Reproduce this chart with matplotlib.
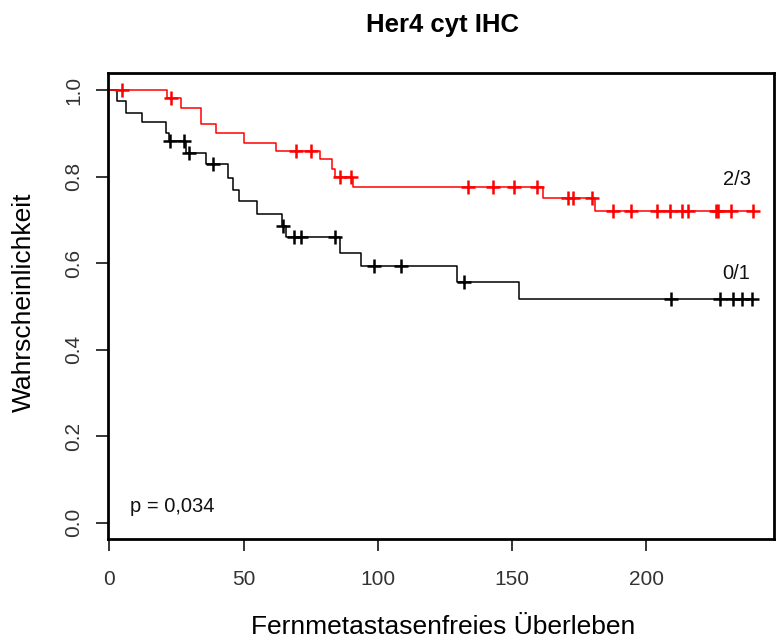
import numpy as np
import matplotlib
matplotlib.use("Agg")
import matplotlib.pyplot as plt

plt.rcParams['font.family'] = ['Liberation Sans', 'DejaVu Sans']

# Kaplan-Meier steps (time, survival after the step)
t_23 = [0, 21.4, 26.6, 34.0, 39.8, 50.2, 62.0, 78.6, 82.9, 83.9, 90.7, 161.7, 181.0, 239.7]
s_23 = [1.0, 0.981, 0.959, 0.921, 0.901, 0.878, 0.859, 0.840, 0.818, 0.800, 0.776, 0.750, 0.721, 0.721]
cens_23 = [4.6, 22.9, 69.6, 75.0, 85.8, 90.0, 133.6, 143.1, 150.8, 159.5, 171.0, 172.9,
           179.7, 187.5, 194.4, 203.9, 208.9, 213.3, 215.4, 226.0, 226.8, 231.6, 239.7]

t_01 = [0, 3.0, 6.2, 12.3, 21.3, 22.1, 28.6, 36.0, 44.1, 46.2, 48.2, 54.9, 64.3, 65.9,
        86.1, 93.8, 129.4, 152.8, 239.3]
s_01 = [1.0, 0.975, 0.948, 0.926, 0.900, 0.881, 0.855, 0.828, 0.797, 0.768, 0.743, 0.714,
        0.685, 0.661, 0.624, 0.593, 0.557, 0.516, 0.516]
cens_01 = [22.7, 27.9, 29.7, 38.6, 64.6, 68.7, 71.5, 84.0, 98.7, 108.6, 132.3,
           209.2, 227.3, 232.5, 235.6, 239.3]

groups = ["0/1", "2/3"]
p_text = "p = 0,034"


def surv_at(times, surv, x):
    idx = np.searchsorted(times, x, side='right') - 1
    return np.asarray(surv)[idx]


fig = plt.figure(figsize=(7.79, 6.44), dpi=100)
ax = fig.add_axes([108/779, 1-539/644, (774-108)/779, (539-72.5)/644])

for t, s, c, col in [(t_01, s_01, cens_01, 'black'), (t_23, s_23, cens_23, '#ff0000')]:
    ax.step(t, s, where='post', color=col, lw=1.1)
    ax.plot(c, surv_at(t, s, c), ls='none', marker='+', ms=10, mew=1.8, color=col)

ax.text(233.7, 0.575, groups[0], ha='center', va='center', fontsize=14.5, color='#111')
ax.text(233.7, 0.794, groups[1], ha='center', va='center', fontsize=14.5, color='#111')
ax.text(7.8, 0.036, p_text, ha='left', va='center', fontsize=14.5, color='#111')

ax.set_xlim(-0.48, 247.6)
ax.set_ylim(-0.038, 1.0405)
ax.set_xticks([0, 50, 100, 150, 200])
ax.set_yticks([0.0, 0.2, 0.4, 0.6, 0.8, 1.0])
ax.set_yticklabels(["0.0", "0.2", "0.4", "0.6", "0.8", "1.0"], rotation=90, va='center')
ax.tick_params(axis='both', direction='out', length=8.6, width=1.1, labelsize=15,
               labelcolor='#333')
ax.tick_params(axis='x', pad=14)
ax.tick_params(axis='y', pad=9)
for sp in ax.spines.values():
    sp.set_linewidth(2.0)

fig.text(442/779, 1-25/644, "Her4 cyt IHC", ha='center', va='center', fontsize=18.5,
         fontweight='bold')
fig.text(443/779, 1-627/644, "Fernmetastasenfreies Überleben", ha='center', va='center',
         fontsize=19)
fig.text(24/779, 1-302/644, "Wahrscheinlichkeit", ha='center', va='center', rotation=90,
         fontsize=19)

fig.savefig("out.png", dpi=100)
